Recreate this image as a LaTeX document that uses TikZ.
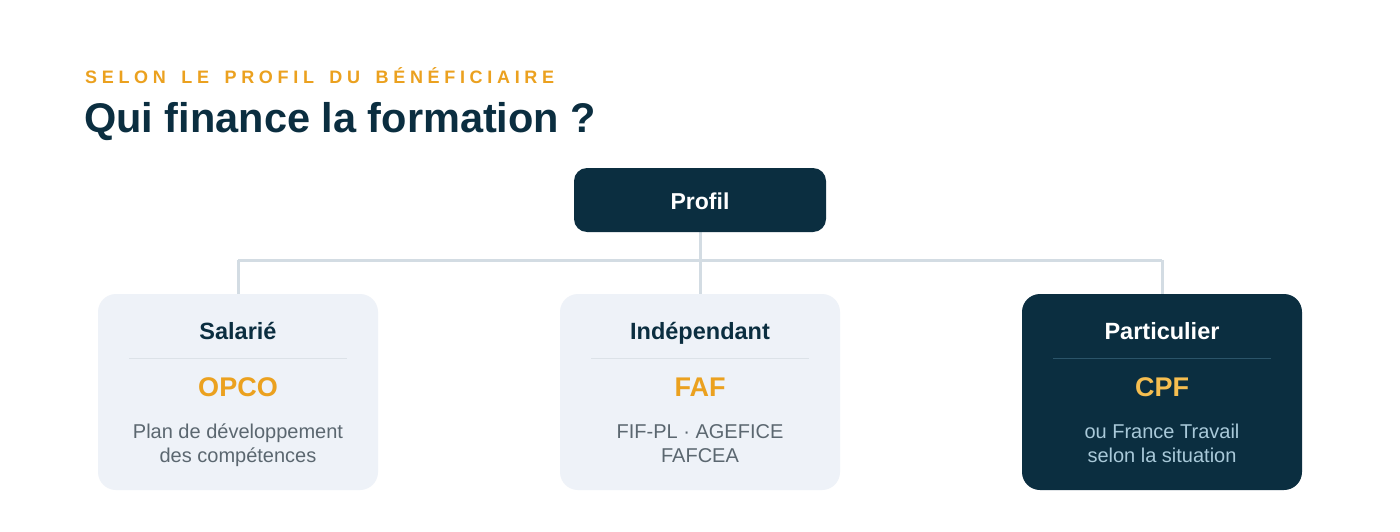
\documentclass[tikz,border=0pt]{standalone}
\usepackage{fontspec}
\setmainfont{Liberation Sans}
\newfontfamily\kickerfont{Liberation Sans}[LetterSpace=26,WordSpace=1.6]
\definecolor{navy}{RGB}{11,46,64}
\definecolor{orng}{RGB}{235,161,31}
\definecolor{lightbox}{RGB}{238,242,248}
\definecolor{conn}{RGB}{211,220,227}
\definecolor{seplight}{RGB}{220,226,232}
\definecolor{graytxt}{RGB}{91,103,112}
\definecolor{sepdark}{RGB}{43,84,105}
\definecolor{cpfcol}{RGB}{246,190,80}
\definecolor{darkdesc}{RGB}{169,201,217}
\tikzset{
  lbox/.style={fill=lightbox, rounded corners=18pt, draw=none},
  dbox/.style={fill=navy, rounded corners=18pt, draw=none},
  cardtitle/.style={anchor=base, font=\fontsize{23.5}{28}\selectfont\bfseries, text=navy, inner sep=0pt},
  cardfund/.style={anchor=base, font=\fontsize{27}{32}\selectfont\bfseries, text=orng, inner sep=0pt},
  carddesc/.style={anchor=base, font=\fontsize{20}{24}\selectfont, text=graytxt, inner sep=0pt},
  connector/.style={draw=conn, line width=3pt},
}
\begin{document}
\begin{tikzpicture}[x=1pt,y=-1pt]
\useasboundingbox (0,0) rectangle (1400,532);
\fill[white] (0,0) rectangle (1400,532);
% headings
\node[anchor=base west, inner sep=0pt, text=orng, font=\fontsize{18}{22}\kickerfont\bfseries] (kicker) at (85,84) {SELON LE PROFIL DU BÉNÉFICIAIRE};
\node[anchor=base west, inner sep=0pt, text=navy, font=\fontsize{41.5}{48}\selectfont\bfseries] (title) at (84,133) {Qui finance la formation ?};
% connectors (behind)
\coordinate (hl) at (238,260);
\coordinate (hr) at (1162,260);
\coordinate (hm) at (700,260);
\coordinate (pb) at (700,232);
\coordinate (lt) at (238,295);
\coordinate (mt) at (700,295);
\coordinate (rt) at (1162,295);
\draw[connector] (pb) -- (mt);
\draw[connector] (hl) -- (hr);
\draw[connector] (hl) -- (lt);
\draw[connector] (hr) -- (rt);
% profil
\fill[navy, rounded corners=13pt] (574,168) rectangle (826,232);
\node[anchor=base, inner sep=0pt, text=white, font=\fontsize{23}{28}\selectfont\bfseries] (profil) at (700,209) {Profil};
% cards
\fill[lbox] (98,294) rectangle (378,490);
\fill[lbox] (560,294) rectangle (840,490);
\fill[dbox] (1022,294) rectangle (1302,490);
% salarie
\node[cardtitle] (t1) at (238,339) {Salarié};
\draw[seplight, line width=1pt] (129,358) -- (347,358);
\node[cardfund] (f1) at (238,396) {OPCO};
\node[carddesc] (d1a) at (238,438) {Plan de développement};
\node[carddesc] (d1b) at (238,462) {des compétences};
% independant
\node[cardtitle] (t2) at (700,339) {Indépendant};
\draw[seplight, line width=1pt] (591,358) -- (809,358);
\node[cardfund] (f2) at (700,396) {FAF};
\node[carddesc] (d2a) at (700,438) {FIF-PL · AGEFICE};
\node[carddesc] (d2b) at (700,462) {FAFCEA};
% particulier
\node[cardtitle, text=white] (t3) at (1162,339) {Particulier};
\draw[sepdark, line width=1pt] (1053,358) -- (1271,358);
\node[cardfund, text=cpfcol] (f3) at (1162,396) {CPF};
\node[carddesc, text=darkdesc] (d3a) at (1162,438) {ou France Travail};
\node[carddesc, text=darkdesc] (d3b) at (1162,462) {selon la situation};
\end{tikzpicture}
\end{document}
